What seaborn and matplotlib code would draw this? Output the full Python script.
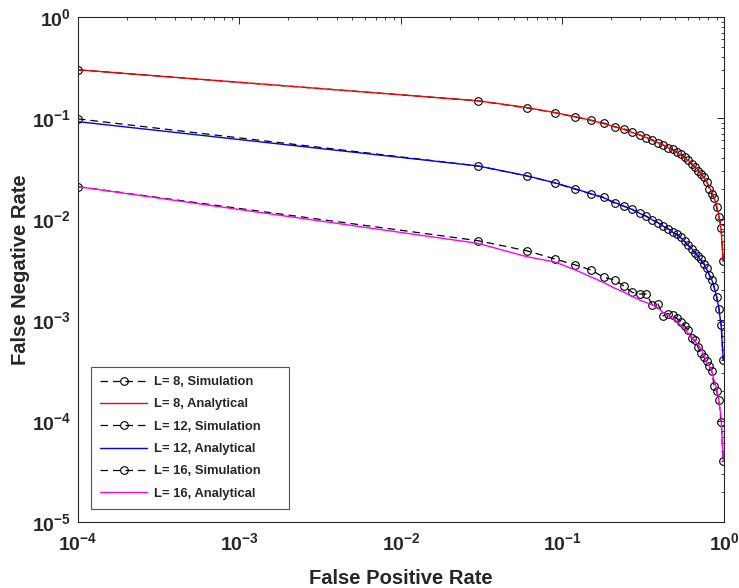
import matplotlib
matplotlib.use("Agg")
import matplotlib.pyplot as plt
import matplotlib.ticker as mticker
import numpy as np
import pandas as pd
import seaborn as sns

# ---------------------------------------------------------------------------
# Data
# ---------------------------------------------------------------------------
fpr = [1e-4, 0.03, 0.06, 0.09, 0.12, 0.15, 0.18, 0.21, 0.24, 0.27, 0.30,
       0.33, 0.36, 0.39, 0.42, 0.45, 0.48, 0.51, 0.54, 0.57, 0.60, 0.63,
       0.66, 0.69, 0.72, 0.75, 0.78, 0.81, 0.84, 0.87, 0.90, 0.93, 0.96, 0.99]

sim_l8 = [0.300, 0.148, 0.126, 0.113, 0.102, 0.095, 0.089, 0.082, 0.078,
          0.073, 0.068, 0.064, 0.061, 0.057, 0.054, 0.051, 0.049, 0.046,
          0.044, 0.041, 0.038, 0.035, 0.0325, 0.030, 0.028, 0.026, 0.0235,
          0.020, 0.0175, 0.016, 0.013, 0.0105, 0.0082, 0.0038]
ana_l8 = [0.300, 0.148, 0.127, 0.113, 0.103, 0.095, 0.088, 0.082, 0.077,
          0.072, 0.068, 0.064, 0.060, 0.057, 0.054, 0.051, 0.048, 0.0455,
          0.043, 0.040, 0.038, 0.0355, 0.033, 0.0305, 0.028, 0.0258, 0.0235,
          0.021, 0.0185, 0.016, 0.0135, 0.0108, 0.0078, 0.0038]

sim_l12 = [0.098, 0.0335, 0.0267, 0.0227, 0.0197, 0.0177, 0.0164, 0.0143,
           0.0134, 0.0125, 0.0114, 0.0107, 0.0098, 0.0092, 0.0085, 0.0080,
           0.0075, 0.0071, 0.0066, 0.0060, 0.0055, 0.0050, 0.0046, 0.0043,
           0.0040, 0.0036, 0.0033, 0.0028, 0.0025, 0.0021, 0.0017, 0.0013,
           0.0009, 0.0004]
ana_l12 = [0.092, 0.0335, 0.0268, 0.0228, 0.0199, 0.0178, 0.0162, 0.0146,
           0.0134, 0.0124, 0.0114, 0.0106, 0.0098, 0.0092, 0.0085, 0.0080,
           0.0074, 0.0070, 0.0065, 0.0060, 0.0055, 0.0051, 0.0047, 0.0043,
           0.0039, 0.0036, 0.0032, 0.0028, 0.0025, 0.0021, 0.0017, 0.0013,
           0.00088, 0.0004]

sim_l16 = [0.0209, 0.0061, 0.00485, 0.00402, 0.00351, 0.00313, 0.00265,
           0.00249, 0.00217, 0.00188, 0.00181, 0.00181, 0.00141, 0.00144,
           0.00110, 0.00116, 0.00112, 0.00104, 0.00096, 0.00087, 0.00080,
           0.00066, 0.00063, 0.00054, 0.00047, 0.00043, 0.00039, 0.00035,
           0.00031, 0.00022, 0.00020, 0.00016, 0.000098, 0.00004]
ana_l16 = [0.0209, 0.00574, 0.00424, 0.00375, 0.00313, 0.00267, 0.00235,
           0.00207, 0.00189, 0.00171, 0.00158, 0.00149, 0.00141, 0.00132,
           0.00119, 0.00111, 0.00104, 0.00097, 0.00089, 0.00082, 0.00074,
           0.00066, 0.00062, 0.00057, 0.00052, 0.00045, 0.00038, 0.00035,
           0.00031, 0.00025, 0.00021, 0.00016, 0.000107, 0.00004]

series = [
    ("L= 8, Simulation", sim_l8, "sim", "black"),
    ("L= 8, Analytical", ana_l8, "ana", "#ff0000"),
    ("L= 12, Simulation", sim_l12, "sim", "black"),
    ("L= 12, Analytical", ana_l12, "ana", "#0000ff"),
    ("L= 16, Simulation", sim_l16, "sim", "black"),
    ("L= 16, Analytical", ana_l16, "ana", "#ff00ff"),
]

# ---------------------------------------------------------------------------
# Style
# ---------------------------------------------------------------------------
sns.set_style("white")
plt.rcParams.update({
    "font.family": ["Liberation Sans", "DejaVu Sans"],
    "font.weight": "bold",
    "mathtext.fontset": "custom",
    "mathtext.rm": "Liberation Sans:bold",
    "mathtext.it": "Liberation Sans:bold",
    "mathtext.bf": "Liberation Sans:bold",
    "axes.edgecolor": "#262626",
    "axes.linewidth": 0.8,
    "xtick.direction": "in",
    "ytick.direction": "in",
    "xtick.top": True,
    "ytick.right": True,
})

fig = plt.figure(figsize=(7.39, 5.88), dpi=100)
ax = fig.add_axes([0.1055, 0.1122, 0.8742, 0.8589])

for label, vals, kind, colour in series:
    df = pd.DataFrame({"fpr": fpr, "fnr": vals})
    if kind == "sim":
        sns.lineplot(data=df, x="fpr", y="fnr", ax=ax, label=label,
                     color=colour, lw=0.9, linestyle=(0, (6, 4)),
                     marker="o", markersize=5.5, markerfacecolor="none",
                     markeredgecolor="black", markeredgewidth=0.8,
                     sort=False, estimator=None)
    else:
        sns.lineplot(data=df, x="fpr", y="fnr", ax=ax, label=label,
                     color=colour, lw=1.0, sort=False, estimator=None)

ax.set_xscale("log")
ax.set_yscale("log")
ax.set_xlim(1e-4, 1)
ax.set_ylim(1e-5, 1)

ax.xaxis.set_major_locator(mticker.LogLocator(base=10, numticks=10))
ax.yaxis.set_major_locator(mticker.LogLocator(base=10, numticks=10))
ax.xaxis.set_minor_locator(mticker.LogLocator(base=10, subs=np.arange(2, 10), numticks=20))
ax.yaxis.set_minor_locator(mticker.LogLocator(base=10, subs=np.arange(2, 10), numticks=20))
ax.xaxis.set_minor_formatter(mticker.NullFormatter())
ax.yaxis.set_minor_formatter(mticker.NullFormatter())
fmt = mticker.FuncFormatter(lambda v, p: r"$10^{%d}$" % round(np.log10(v)))
ax.xaxis.set_major_formatter(fmt)
ax.yaxis.set_major_formatter(fmt)

ax.tick_params(which="major", length=5, width=0.7, labelsize=14,
               colors="#262626", labelcolor="#262626")
ax.tick_params(axis="x", which="major", pad=7)
ax.tick_params(axis="y", which="major", pad=5)
ax.tick_params(which="minor", length=2.5, width=0.6, colors="#262626")
ax.grid(False)

ax.set_xlabel("False Positive Rate", fontsize=14.5, fontweight="bold",
              color="#262626")
ax.set_ylabel("False Negative Rate", fontsize=14.5, fontweight="bold",
              color="#262626")
ax.xaxis.set_label_coords(0.5, -0.093)
ax.yaxis.set_label_coords(-0.075, 0.5)

leg = ax.legend(loc="lower left", bbox_to_anchor=(0.02, 0.026, 0.3065, 0.28),
                mode="expand", fontsize=9.4, frameon=True, fancybox=False,
                handlelength=3.6, labelspacing=0.78, borderpad=0.7,
                handletextpad=0.5, borderaxespad=0)
leg.get_frame().set_edgecolor("#262626")
leg.get_frame().set_linewidth(0.8)
for t in leg.get_texts():
    t.set_fontweight("bold")

fig.savefig("out.png", dpi=100)
